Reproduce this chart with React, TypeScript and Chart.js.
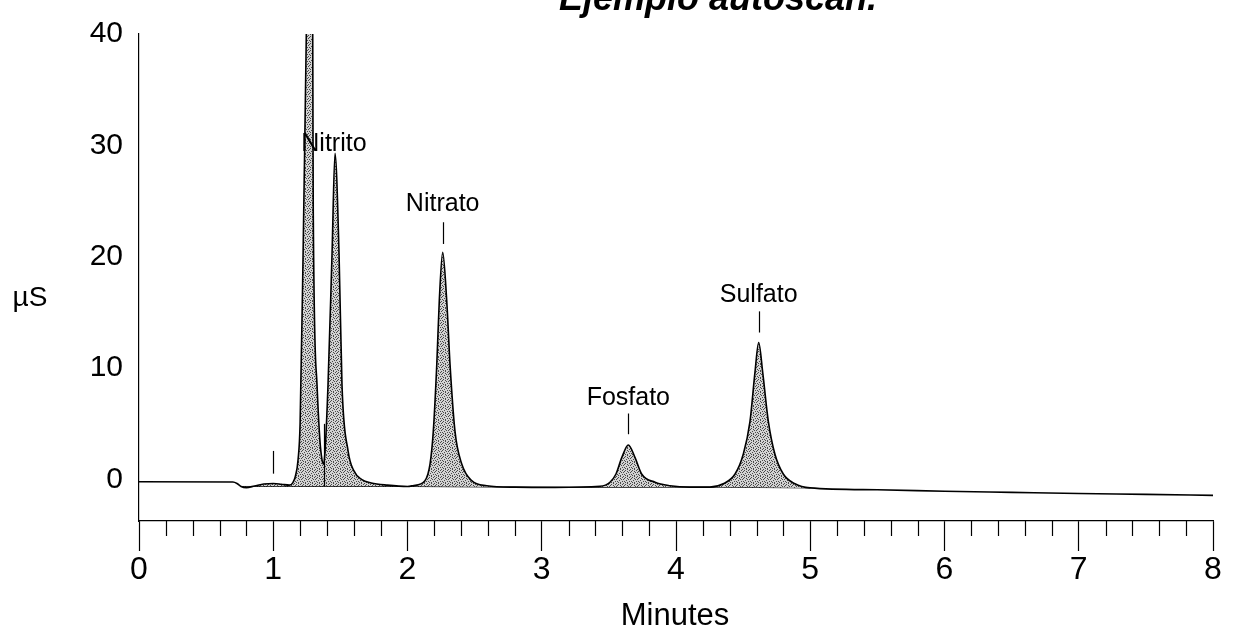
import React, { useEffect, useRef } from 'react';
import { Chart, registerables } from 'chart.js';

Chart.register(...registerables);

// ---- Chromatogram signal (minutes, µS) ----
const signalTime = [
  0.0, 0.7, 0.73, 0.76, 0.8, 0.86, 0.93, 1.0, 1.06, 1.12,
  1.145, 1.165, 1.185, 1.2, 1.222, 1.244, 1.274, 1.294, 1.298, 1.326,
  1.348, 1.363, 1.375, 1.386, 1.408, 1.438, 1.46, 1.49, 1.512, 1.557,
  1.6, 1.66, 1.73, 1.85, 2.0, 2.04, 2.13, 2.168, 2.192, 2.218,
  2.237, 2.262, 2.292, 2.317, 2.354, 2.404, 2.478, 2.59, 2.8, 3.1,
  3.434, 3.508, 3.553, 3.596, 3.645, 3.695, 3.744, 3.844, 3.955, 4.1,
  4.253, 4.352, 4.44, 4.501, 4.551, 4.588, 4.616, 4.646, 4.688, 4.737,
  4.799, 4.886, 4.998, 5.5, 6.0, 6.5, 7.0, 7.5, 8.0,
];
const signalValue = [
  -0.2, -0.22, -0.35, -0.62, -0.72, -0.58, -0.4, -0.36, -0.42, -0.5,
  -0.3, 0.3, 1.8, 5.0, 20.0, 38.0, 62.0, 40.0, 24.0, 8.5,
  3.45, 1.8, 1.4, 2.6, 8.5, 20.3, 29.3, 20.3, 8.5, 2.6,
  0.8, 0.0, -0.3, -0.5, -0.62, -0.55, -0.1, 1.4, 4.3, 10.3,
  16.1, 20.4, 16.1, 10.3, 4.3, 1.4, -0.1, -0.55, -0.68, -0.7,
  -0.6, -0.24, 0.5, 1.97, 3.1, 1.97, 0.5, -0.24, -0.55, -0.68,
  -0.68, -0.38, 0.5, 2.27, 5.2, 9.6, 12.3, 9.6, 5.2, 2.27,
  0.5, -0.38, -0.75, -0.92, -1.05, -1.15, -1.25, -1.33, -1.42,
];

// integration baseline under the peaks
const baselineTime = [0.76, 2.0, 3.1, 4.25, 5.0];
const baselineValue = [-0.62, -0.62, -0.7, -0.68, -0.75];

// peak names and where their labels sit
const peakNames = ['Nitrito', 'Nitrato', 'Fosfato', 'Sulfato'];
const peakTimes = [1.452, 2.262, 3.645, 4.616];
const labelValues = [30.1, 24.7, 7.35, 16.6];

// short vertical marker strokes (injection marker + peak markers)
const markerTimes = [1.0, 2.262, 3.645, 4.616];
const markerTop = [2.57, 23.1, 5.93, 15.1];
const markerBottom = [0.53, 21.15, 4.07, 13.2];

// drop line separating the two first peaks
const dropLineTime = [1.375];
const dropLineTop = [5.0];
const dropLineBottom = [-0.62];

const yTickValues = [0, 10, 20, 30, 40];
const titleText = 'Ejemplo autoscan.';
const yAxisTitle = 'µS';
const xAxisTitle = 'Minutes';

const FONT = '"Liberation Sans", Arial, sans-serif';

function makeStipple(): CanvasPattern | string {
  const rows = [
    '1000100',
    '0010001',
    '0100100',
    '1000010',
    '0001000',
    '0100001',
    '0010100',
  ];
  const n = rows.length;
  const c = document.createElement('canvas');
  c.width = n;
  c.height = n;
  const g = c.getContext('2d');
  if (!g) return '#b0b0b0';
  for (let y = 0; y < n; y++) {
    for (let x = 0; x < n; x++) {
      g.fillStyle = rows[y][x] === '1' ? '#4a4a4a' : '#d2d2d2';
      g.fillRect(x, y, 1, 1);
    }
  }
  const p = g.createPattern(c, 'repeat');
  return p || '#b0b0b0';
}

const isMajor = (v: number) => Math.abs(v - Math.round(v)) < 1e-6;

const decorPlugin = {
  id: 'decor',
  afterDatasetsDraw(chart: any) {
    const ctx = chart.ctx as CanvasRenderingContext2D;
    const xs = chart.scales.x;
    const ys = chart.scales.y;
    const area = chart.chartArea;
    ctx.save();
    ctx.strokeStyle = '#000';
    ctx.lineWidth = 1.2;

    // marker strokes
    for (let i = 0; i < markerTimes.length; i++) {
      const px = Math.round(xs.getPixelForValue(markerTimes[i])) + 0.5;
      ctx.beginPath();
      ctx.moveTo(px, ys.getPixelForValue(markerTop[i]));
      ctx.lineTo(px, ys.getPixelForValue(markerBottom[i]));
      ctx.stroke();
    }
    // drop line
    for (let i = 0; i < dropLineTime.length; i++) {
      const px = Math.round(xs.getPixelForValue(dropLineTime[i])) + 0.5;
      ctx.beginPath();
      ctx.moveTo(px, ys.getPixelForValue(dropLineTop[i]));
      ctx.lineTo(px, ys.getPixelForValue(dropLineBottom[i]));
      ctx.stroke();
    }
    // minor tick marks on the x axis
    xs.ticks.forEach((t: any) => {
      if (isMajor(t.value)) return;
      const px = Math.round(xs.getPixelForValue(t.value)) + 0.5;
      ctx.beginPath();
      ctx.moveTo(px, area.bottom);
      ctx.lineTo(px, area.bottom + 15);
      ctx.stroke();
    });

    // peak labels
    ctx.fillStyle = '#000';
    ctx.font = `25px ${FONT}`;
    ctx.textAlign = 'center';
    ctx.textBaseline = 'middle';
    for (let i = 0; i < peakNames.length; i++) {
      ctx.fillText(peakNames[i], xs.getPixelForValue(peakTimes[i]), ys.getPixelForValue(labelValues[i]));
    }

    // axis titles
    ctx.font = `28px ${FONT}`;
    ctx.fillText(yAxisTitle, 30, 298);
    ctx.font = `31px ${FONT}`;
    ctx.fillText(xAxisTitle, 675, 616);

    // title (cut by the top edge, as in the scan)
    ctx.font = `italic bold 36px ${FONT}`;
    ctx.textBaseline = 'alphabetic';
    ctx.fillText(titleText, 718, 10);
    ctx.restore();
  },
};

export default function App() {
  const ref = useRef<HTMLCanvasElement | null>(null);

  useEffect(() => {
    if (!ref.current) return;
    const stipple = makeStipple();
    const chart = new Chart(ref.current, {
      type: 'line',
      data: {
        datasets: [
          {
            label: 'Señal',
            data: signalTime.map((t, i) => ({ x: t, y: signalValue[i] })),
            borderColor: '#000',
            borderWidth: 1.6,
            pointRadius: 0,
            cubicInterpolationMode: 'monotone',
            fill: { target: 1, above: stipple as any, below: 'rgba(0,0,0,0)' },
          },
          {
            label: 'Línea base',
            data: baselineTime.map((t, i) => ({ x: t, y: baselineValue[i] })),
            borderColor: '#000',
            borderWidth: 1,
            pointRadius: 0,
            fill: false,
          },
        ],
      },
      options: {
        animation: false,
        responsive: false,
        events: [],
        layout: { padding: { left: 0, top: 27, right: 24, bottom: 0 } },
        plugins: {
          legend: { display: false },
          tooltip: { enabled: false },
          title: { display: false },
        },
        scales: {
          x: {
            type: 'linear',
            min: 0,
            max: 8,
            ticks: {
              stepSize: 0.2,
              autoSkip: false,
              maxRotation: 0,
              padding: 0,
              color: '#000',
              font: { family: FONT, size: 32 },
              callback: (v: any) => (isMajor(Number(v)) ? String(Math.round(Number(v))) : ''),
            },
            grid: {
              display: true,
              drawOnChartArea: false,
              drawTicks: true,
              tickLength: 30,
              tickWidth: 1.2,
              color: (c: any) => (c.tick && isMajor(c.tick.value) ? '#000' : 'rgba(0,0,0,0)'),
            },
            border: { display: true, color: '#000', width: 1.2 },
            afterFit: (s: any) => {
              s.height = 118;
            },
          },
          y: {
            type: 'linear',
            min: -3.72,
            max: 40,
            ticks: {
              stepSize: 10,
              padding: 16,
              color: '#000',
              font: { family: FONT, size: 30 },
            },
            afterBuildTicks: (s: any) => {
              s.ticks = yTickValues.map((v) => ({ value: v }));
            },
            grid: { display: true, drawOnChartArea: false, drawTicks: false },
            border: { display: true, color: '#000', width: 1.2 },
            afterFit: (s: any) => {
              s.width = 139;
            },
          },
        },
      },
      plugins: [decorPlugin],
    });
    return () => chart.destroy();
  }, []);

  return (
    <div style={{ position: 'absolute', left: 0, top: 0, width: 1237, height: 639, background: '#fff' }}>
      <canvas ref={ref} width={1237} height={639} style={{ display: 'block' }} />
    </div>
  );
}
